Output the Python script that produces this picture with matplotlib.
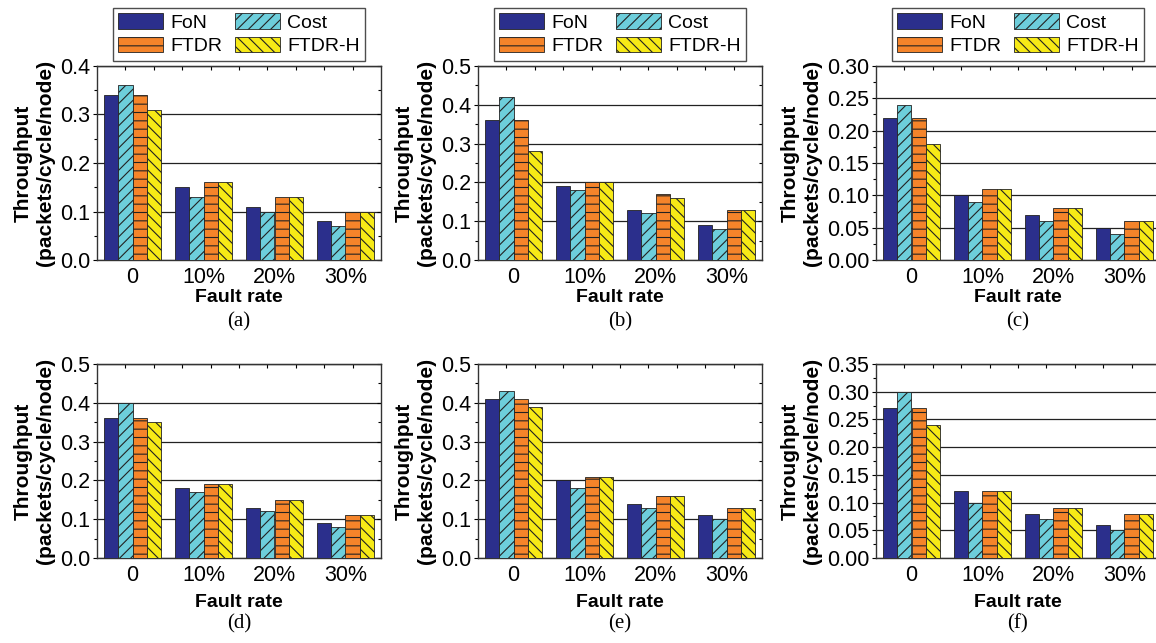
import matplotlib
matplotlib.use("Agg")
import matplotlib.pyplot as plt
from matplotlib.ticker import MultipleLocator, FormatStrFormatter
import numpy as np

plt.rcParams['font.family'] = ['Liberation Sans', 'DejaVu Sans']
plt.rcParams['hatch.linewidth'] = 0.8

categories = ['0', '10%', '20%', '30%']
series = ['FoN', 'Cost', 'FTDR', 'FTDR-H']
colors = ['#2b2f8c', '#6dcedb', '#f5842a', '#f7ea16']
hatches = ['', '///', '--', '\\\\\\']

# values per panel: FoN, Cost, FTDR, FTDR-H
fon_a = [0.34, 0.15, 0.11, 0.08]
cost_a = [0.36, 0.13, 0.10, 0.07]
ftdr_a = [0.34, 0.16, 0.13, 0.10]
ftdrh_a = [0.31, 0.16, 0.13, 0.10]

fon_b = [0.36, 0.19, 0.13, 0.09]
cost_b = [0.42, 0.18, 0.12, 0.08]
ftdr_b = [0.36, 0.20, 0.17, 0.13]
ftdrh_b = [0.28, 0.20, 0.16, 0.13]

fon_c = [0.22, 0.10, 0.07, 0.05]
cost_c = [0.24, 0.09, 0.06, 0.04]
ftdr_c = [0.22, 0.11, 0.08, 0.06]
ftdrh_c = [0.18, 0.11, 0.08, 0.06]

fon_d = [0.36, 0.18, 0.13, 0.09]
cost_d = [0.40, 0.17, 0.12, 0.08]
ftdr_d = [0.36, 0.19, 0.15, 0.11]
ftdrh_d = [0.35, 0.19, 0.15, 0.11]

fon_e = [0.41, 0.20, 0.14, 0.11]
cost_e = [0.43, 0.18, 0.13, 0.10]
ftdr_e = [0.41, 0.21, 0.16, 0.13]
ftdrh_e = [0.39, 0.21, 0.16, 0.13]

fon_f = [0.27, 0.12, 0.08, 0.06]
cost_f = [0.30, 0.10, 0.07, 0.05]
ftdr_f = [0.27, 0.12, 0.09, 0.08]
ftdrh_f = [0.24, 0.12, 0.09, 0.08]

panel_names = ['(a)', '(b)', '(c)', '(d)', '(e)', '(f)']
ymax = [0.4, 0.5, 0.30, 0.5, 0.5, 0.35]
ystep = [0.1, 0.1, 0.05, 0.1, 0.1, 0.05]
panel_data = [
    [fon_a, cost_a, ftdr_a, ftdrh_a],
    [fon_b, cost_b, ftdr_b, ftdrh_b],
    [fon_c, cost_c, ftdr_c, ftdrh_c],
    [fon_d, cost_d, ftdr_d, ftdrh_d],
    [fon_e, cost_e, ftdr_e, ftdrh_e],
    [fon_f, cost_f, ftdr_f, ftdrh_f],
]

W, H = 1156, 643
fig = plt.figure(figsize=(W / 100, H / 100), dpi=100)

lefts = [97, 478, 876]
tops = [66, 364]
aw, ah = 284, 194

x = np.arange(1, len(categories) + 1)
bw = 0.2

for i, vals in enumerate(panel_data):
    row, col = divmod(i, 3)
    l, t = lefts[col], tops[row]
    ax = fig.add_axes([l / W, 1 - (t + ah) / H, aw / W, ah / H])
    bars = []
    for k, s in enumerate(series):
        b = ax.bar(x + (k - 1.5) * bw, vals[k], bw, color=colors[k], hatch=hatches[k],
                   edgecolor='#222222', linewidth=0.6, label=s, zorder=3)
        bars.append(b)
    ax.set_xlim(0.5, 4.5)
    ax.set_ylim(0, ymax[i])
    ax.set_xticks(x)
    ax.set_xticklabels(categories, fontsize=15.5)
    ax.yaxis.set_major_locator(MultipleLocator(ystep[i]))
    ax.yaxis.set_minor_locator(MultipleLocator(ystep[i] / 2))
    two_dec = ystep[i] < 0.1
    ax.yaxis.set_major_formatter(FormatStrFormatter('%.2f' if two_dec else '%.1f'))
    ax.tick_params(axis='y', labelsize=15.5, direction='out', length=3, width=0.8, pad=2,
                   right=True)
    ax.tick_params(axis='y', which='minor', direction='out', length=2, width=0.8, right=True)
    ax.tick_params(axis='x', length=0, pad=5)
    ax.grid(axis='y', which='major', color='#222222', linewidth=0.9, zorder=0)
    ax.set_axisbelow(True)
    for sp in ax.spines.values():
        sp.set_color('#333333')
        sp.set_linewidth(1.0)

    # inward ticks on top and right
    sec = ax.secondary_xaxis('top')
    sec.set_xticks(np.linspace(0.5, 4.5, 11)[1:-1])
    sec.tick_params(direction='in', length=3, width=0.8, labeltop=False)
    for tk in ax.yaxis.get_major_ticks() + ax.yaxis.get_minor_ticks():
        tk.tick2line.set_marker(matplotlib.lines.TICKLEFT)

    ax.set_ylabel('Throughput\n(packets/cycle/node)', fontsize=15, fontweight='bold',
                  linespacing=1.2)
    ax.yaxis.set_label_coords(-0.19 if two_dec else -0.148, 0.5)
    ax.set_xlabel('Fault rate', fontsize=14, fontweight='bold',
                  labelpad=1 if row == 0 else 6)
    fig.text((l + aw / 2) / W, 1 - (t + ah + (62 if row == 0 else 66)) / H, panel_names[i],
             ha='center', va='center', fontsize=15, family='Liberation Serif')

    if row == 0:
        order = [0, 2, 1, 3]
        leg = ax.legend([bars[j] for j in order], [series[j] for j in order],
                        loc='lower center', bbox_to_anchor=(0.5, 1.025), ncol=2, fontsize=14,
                        frameon=True, fancybox=False, edgecolor='#222222', borderaxespad=0,
                        handlelength=2.3, handleheight=0.85, handletextpad=0.35,
                        columnspacing=0.7, labelspacing=0.25, borderpad=0.3)
        leg.get_frame().set_linewidth(1.0)

fig.savefig('out.png', dpi=100)
